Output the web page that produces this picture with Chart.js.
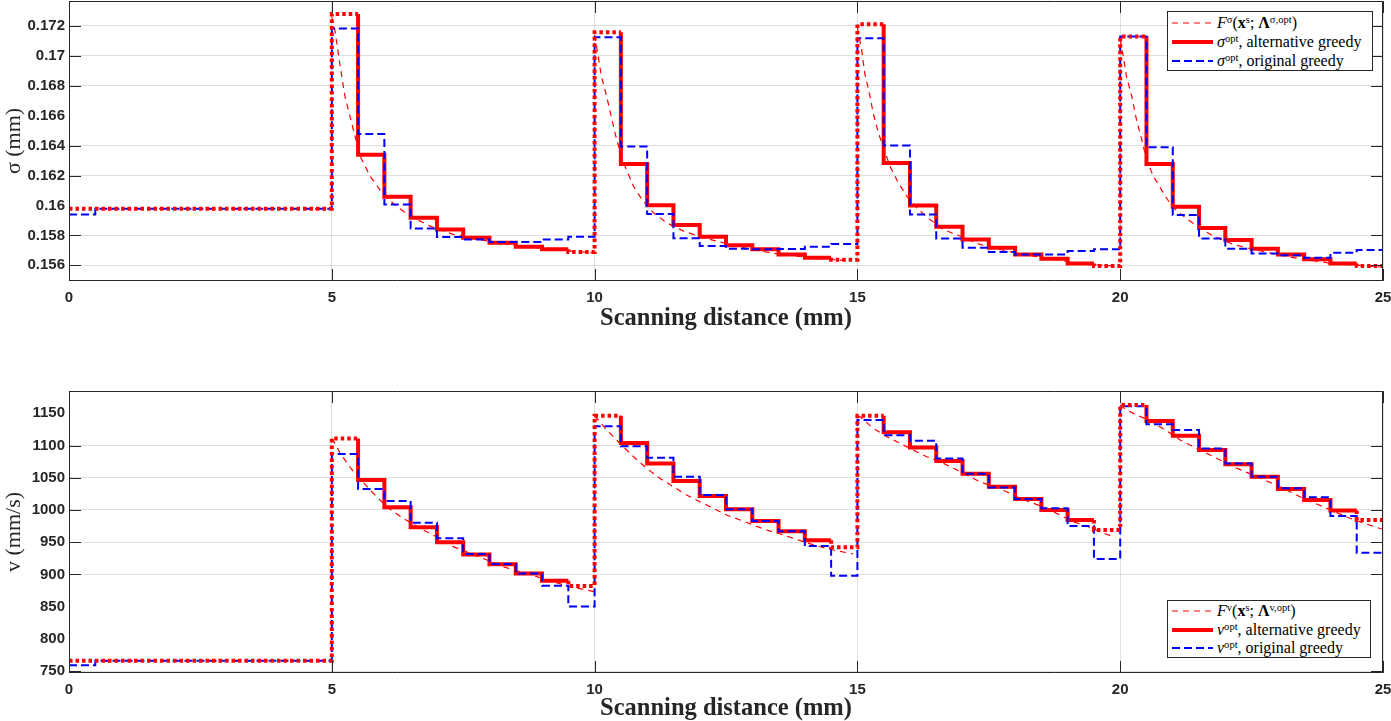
<!DOCTYPE html>
<html>
<head>
<meta charset="utf-8">
<script src="https://cdn.jsdelivr.net/npm/chart.js@4.4.1/dist/chart.umd.min.js"></script>
<style>
  body { margin: 0; background: #fff; }
  #wrap { position: relative; width: 1391px; height: 721px; overflow: hidden; }
  #wrap canvas { position: absolute; left: 0; }
  .legend { position: absolute; background: #fff; border: 1px solid #262626; box-sizing: border-box;
            font-family: "Liberation Serif", serif; font-size: 16px; color: #000; }
  .legend .row { position: absolute; left: 4px; height: 19px; display: flex; align-items: center; white-space: nowrap; }
  .legend svg { margin-right: 4px; }
  .legend sup { font-size: 0.66em; line-height: 0; vertical-align: 0.5em; }
</style>
</head>
<body>
<div id="wrap">
  <canvas id="top" width="1391" height="360" style="top:0"></canvas>
  <canvas id="bottom" width="1391" height="361" style="top:360px"></canvas>

  <div class="legend" style="left:1167px; top:11px; width:206px; height:60px;">
    <div class="row" style="top:1px"><svg width="41" height="8"><line x1="0" y1="4" x2="41" y2="4" stroke="#f00" stroke-width="1.2" stroke-dasharray="6 5"/></svg><span><i>F</i><sup>σ</sup>(<b>x</b><sup>s</sup>; <b>Λ</b><sup>σ,opt</sup>)</span></div>
    <div class="row" style="top:20px"><svg width="41" height="8"><line x1="0" y1="4" x2="41" y2="4" stroke="#f00" stroke-width="4"/></svg><span><i>σ</i><sup>opt</sup>, alternative greedy</span></div>
    <div class="row" style="top:39px"><svg width="41" height="8"><line x1="0" y1="4" x2="41" y2="4" stroke="#00f" stroke-width="2" stroke-dasharray="8 4"/></svg><span><i>σ</i><sup>opt</sup>, original greedy</span></div>
  </div>

  <div class="legend" style="left:1167px; top:600px; width:204px; height:58px;">
    <div class="row" style="top:0px"><svg width="41" height="8"><line x1="0" y1="4" x2="41" y2="4" stroke="#f00" stroke-width="1.2" stroke-dasharray="6 5"/></svg><span><i>F</i><sup>v</sup>(<b>x</b><sup>s</sup>; <b>Λ</b><sup>v,opt</sup>)</span></div>
    <div class="row" style="top:19px"><svg width="41" height="8"><line x1="0" y1="4" x2="41" y2="4" stroke="#f00" stroke-width="4"/></svg><span><i>v</i><sup>opt</sup>, alternative greedy</span></div>
    <div class="row" style="top:37px"><svg width="41" height="8"><line x1="0" y1="4" x2="41" y2="4" stroke="#00f" stroke-width="2" stroke-dasharray="8 4"/></svg><span><i>v</i><sup>opt</sup>, original greedy</span></div>
  </div>
</div>

<script>
// bords des segments de 0.5 mm
const xEdges = [0, 0.5, 1, 1.5, 2, 2.5, 3, 3.5, 4, 4.5, 5, 5.5, 6, 6.5, 7, 7.5, 8, 8.5, 9, 9.5,
                10, 10.5, 11, 11.5, 12, 12.5, 13, 13.5, 14, 14.5, 15, 15.5, 16, 16.5, 17, 17.5, 18, 18.5, 19, 19.5,
                20, 20.5, 21, 21.5, 22, 22.5, 23, 23.5, 24, 24.5, 25];
const xTicks = [0, 5, 10, 15, 20, 25];

// sigma (mm), une valeur par segment
const sigmaAlt = [0.15978, 0.15978, 0.15978, 0.15978, 0.15978, 0.15978, 0.15978, 0.15978, 0.15978, 0.15978,
                  0.1728, 0.1634, 0.16058, 0.15918, 0.1584, 0.15784, 0.15751, 0.15724, 0.15707, 0.15689,
                  0.17158, 0.16278, 0.16002, 0.15869, 0.15791, 0.15735, 0.15707, 0.15673, 0.15651, 0.15638,
                  0.17211, 0.16285, 0.16, 0.15858, 0.15773, 0.15718, 0.15673, 0.15644, 0.15613, 0.15596,
                  0.17129, 0.16278, 0.15991, 0.15849, 0.15769, 0.15711, 0.15673, 0.1564, 0.15613, 0.15596];
const sigmaOrig = [0.1594, 0.15978, 0.15978, 0.15978, 0.15978, 0.15978, 0.15978, 0.15978, 0.15978, 0.15978,
                   0.17184, 0.16478, 0.16007, 0.15847, 0.15789, 0.15773, 0.15756, 0.15756, 0.15773, 0.15791,
                   0.17125, 0.16395, 0.15944, 0.15782, 0.15729, 0.15711, 0.15707, 0.1571, 0.15724, 0.15742,
                   0.17118, 0.16402, 0.1594, 0.1578, 0.15718, 0.15689, 0.15673, 0.15673, 0.15696, 0.15707,
                   0.17129, 0.16389, 0.15936, 0.1578, 0.15711, 0.1568, 0.15667, 0.15651, 0.15684, 0.15702];
const sigmaFitX = [5, 5.06, 5.16, 5.25, 5.41, 5.54, 5.73, 5.98, 6.23, 6.49, 6.87, 7.31, 7.63, 8.07, 8.58, 9.09, 9.53, 9.98, null,
                   10, 10.07, 10.13, 10.23, 10.33, 10.42, 10.55, 10.74, 10.9, 11.12, 11.37, 11.69, 12.07, 12.45, 12.83, 13.34, 13.84, 14.35, 14.86, null,
                   15, 15.08, 15.14, 15.24, 15.3, 15.4, 15.49, 15.62, 15.78, 15.94, 16.16, 16.38, 16.63, 16.95, 17.33, 17.84, 18.35, 18.85, 19.36, 19.87, null,
                   20, 20.06, 20.12, 20.22, 20.31, 20.41, 20.5, 20.63, 20.82, 20.98, 21.2, 21.46, 21.77, 22.15, 22.53, 22.98, 23.42, 23.93, 24.44, 24.94];
const sigmaFitY = [0.1726, 0.1717, 0.16929, 0.16729, 0.16507, 0.16329, 0.16196, 0.16073, 0.15996, 0.15929, 0.15862, 0.15807, 0.15784, 0.15756, 0.15729, 0.15711, 0.15696, 0.15684, null,
                   0.1714, 0.16995, 0.16862, 0.16729, 0.16573, 0.1644, 0.16285, 0.16129, 0.1604, 0.15951, 0.15885, 0.15829, 0.15784, 0.15751, 0.15718, 0.15684, 0.15662, 0.15644, 0.15629, null,
                   0.1719, 0.1704, 0.16884, 0.16729, 0.16618, 0.16484, 0.16395, 0.16262, 0.16151, 0.16062, 0.15973, 0.15907, 0.1584, 0.15796, 0.1574, 0.15696, 0.15662, 0.15633, 0.15607, 0.15596, null,
                   0.1711, 0.16995, 0.16862, 0.16729, 0.16573, 0.1644, 0.16307, 0.16196, 0.16085, 0.15996, 0.15929, 0.15862, 0.15796, 0.1574, 0.15707, 0.15673, 0.15644, 0.15618, 0.15602, 0.15589];
const sigmaTicks = [0.156, 0.158, 0.16, 0.162, 0.164, 0.166, 0.168, 0.17, 0.172];
const sigmaFaint = [0.166, 0.16];

// v (mm/s)
const vAlt = [766, 766, 766, 766, 766, 766, 766, 766, 766, 766,
              1111, 1046.5, 1004, 973, 950, 931, 915.5, 901.5, 890, 882,
              1146, 1104, 1072, 1045, 1021.5, 1001, 983, 967, 953, 942,
              1146, 1120.5, 1097, 1076, 1056, 1036, 1017, 1000, 984.5, 969,
              1163, 1138, 1115, 1093, 1071, 1051.5, 1032.5, 1015.5, 999, 984.5];
const vOrig = [759, 766, 766, 766, 766, 766, 766, 766, 766, 766,
               1087, 1032.5, 1014, 980, 956, 931.5, 916, 901.5, 882.5, 850,
               1130, 1099, 1081, 1051.5, 1023, 1001, 983, 967, 944, 898,
               1139.5, 1116, 1107.5, 1080, 1056, 1035, 1017, 1002.5, 975, 924,
               1161, 1133, 1124, 1095.5, 1072, 1051.5, 1033.5, 1019.5, 990.5, 933.5];
const vFitX = [5, 5.06, 5.16, 5.41, 5.73, 6.04, 6.36, 6.68, 6.99, 7.31, 7.63, 7.95, 8.26, 8.58, 8.9, 9.21, 9.53, 9.85, 10, null,
               10, 10.07, 10.23, 10.48, 10.74, 10.99, 11.24, 11.5, 11.75, 12, 12.26, 12.51, 12.77, 13.02, 13.27, 13.53, 13.78, 14.03, 14.29, 14.54, 14.8, 14.92, null,
               15, 15.05, 15.3, 15.56, 15.81, 16.06, 16.32, 16.57, 16.83, 17.08, 17.33, 17.59, 17.84, 18.09, 18.35, 18.6, 18.85, 19.11, 19.36, 19.61, 19.87, null,
               20, 20.1, 20.3, 20.6, 20.9, 21.14, 21.71, 22.15, 22.6, 23.04, 23.48, 23.93, 24.37, 24.87, 25];
const vFitY = [1111, 1103.4, 1087.9, 1059.4, 1031, 1005, 987, 971.5, 958.5, 943, 932.7, 922.3, 911.9, 904.1, 896.4, 888.6, 880.8, 875.7, 873.1, null,
               1146, 1139.6, 1124.1, 1103.4, 1082.6, 1064.6, 1049.1, 1036.1, 1023.2, 1012.8, 1002.5, 992.1, 984.4, 976.6, 968.9, 962.6, 956, 949.1, 942.9, 937.8, 933.6, 931.6, null,
               1146, 1144.8, 1126.7, 1113.7, 1103.4, 1093, 1082.6, 1074.9, 1064.6, 1054.2, 1043.8, 1036.1, 1028.3, 1018, 1010.3, 1002.5, 992.1, 981.7, 975, 966.2, 958.4, null,
               1163, 1156, 1148, 1137, 1122, 1108.6, 1085.3, 1067.1, 1051.6, 1036.1, 1018, 1002.5, 987, 973, 970];
const vTicks = [750, 800, 850, 900, 950, 1000, 1050, 1100, 1150];
const vFaint = [1150, 850, 800];

const RED = "#ff0000";
const BLUE = "#0000ff";
const AXE = "#262626";
const GRILLE = "rgba(38,38,38,0.15)";

// segments en trait plein (le reste de la courbe alternative est en pointillé)
function estPlein(i) {
    return i >= 10 && i % 10 >= 1 && i % 10 <= 8;
}

// points pour un escalier "stepped: before", avec coupure entre les morceaux
function escalier(vals, garder) {
    const pts = [];
    let ouvert = false;
    for (let i = 0; i < vals.length; i++) {
        if (!garder(i)) {
            if (ouvert) {
                pts.push({ x: xEdges[i], y: vals[i - 1] });
                pts.push({ x: xEdges[i], y: null });
                ouvert = false;
            }
            continue;
        }
        if (!ouvert && i > 0) pts.push({ x: xEdges[i], y: vals[i - 1] });
        pts.push({ x: xEdges[i], y: vals[i] });
        ouvert = true;
    }
    if (ouvert) pts.push({ x: xEdges[vals.length], y: vals[vals.length - 1] });
    return pts;
}

function courbe(xs, ys) {
    return xs.map((x, i) => ({ x: x === null ? xs[i - 1] : x, y: ys[i] }));
}

// cadre + graduations vers l'intérieur, comme MATLAB
const cadre = {
    id: "cadre",
    afterDatasetsDraw(chart, args, opts) {
        const { ctx, chartArea: a, scales } = chart;
        const T = 12;
        ctx.save();
        ctx.strokeStyle = AXE;
        ctx.lineWidth = 1;
        ctx.beginPath();
        scales.x.ticks.forEach(t => {
            const px = Math.round(scales.x.getPixelForValue(t.value)) + 0.5;
            ctx.moveTo(px, a.bottom); ctx.lineTo(px, a.bottom - T);
            ctx.moveTo(px, a.top); ctx.lineTo(px, a.top + T);
        });
        scales.y.ticks.forEach(t => {
            if (opts.faint.includes(t.value)) return;
            const py = Math.round(scales.y.getPixelForValue(t.value)) + 0.5;
            ctx.moveTo(a.left, py); ctx.lineTo(a.left + T, py);
            ctx.moveTo(a.right, py); ctx.lineTo(a.right - T, py);
        });
        ctx.rect(a.left + 0.5, a.top + 0.5, a.width - 1, a.height - 1);
        ctx.stroke();
        ctx.restore();
    }
};

function tracer(id, o) {
    const policeTicks = { family: "Liberation Sans", size: 15, weight: "bold" };
    return new Chart(document.getElementById(id), {
        type: "line",
        data: {
            datasets: [
                { data: escalier(o.alt, i => !estPlein(i)), borderColor: RED, borderWidth: 4, borderDash: [3.5, 3], stepped: true, order: 1 },
                { data: escalier(o.orig, () => true), borderColor: BLUE, borderWidth: 2, borderDash: [8, 4], stepped: true, order: 2 },
                { data: escalier(o.alt, estPlein), borderColor: RED, borderWidth: 4, stepped: true, order: 3 },
                { data: courbe(o.fitX, o.fitY), borderColor: RED, borderWidth: 1.2, borderDash: [6, 5], order: 4 }
            ]
        },
        options: {
            responsive: false,
            animation: false,
            events: [],
            devicePixelRatio: 1,
            layout: { padding: { top: o.padTop, right: 8, bottom: 0, left: 0 } },
            elements: { point: { radius: 0 }, line: { tension: 0, borderCapStyle: "butt", borderJoinStyle: "miter" } },
            plugins: { legend: { display: false }, tooltip: { enabled: false }, cadre: { faint: o.faint } },
            scales: {
                x: {
                    type: "linear", min: 0, max: 25,
                    afterBuildTicks: s => { s.ticks = xTicks.map(v => ({ value: v })); },
                    afterFit: s => { s.height = o.xHeight; s.paddingLeft = 0; s.paddingRight = 0; },
                    grid: { color: GRILLE, drawTicks: false },
                    border: { display: false },
                    ticks: { font: policeTicks, color: AXE, padding: 8, maxRotation: 0, autoSkip: false },
                    title: { display: true, text: "Scanning distance (mm)", color: AXE,
                             font: { family: "Liberation Serif", size: 24.5, weight: "bold", lineHeight: 1 },
                             padding: { top: 0, bottom: o.xTitlePad } }
                },
                y: {
                    type: "linear", min: o.yMin, max: o.yMax,
                    afterBuildTicks: s => { s.ticks = o.ticks.map(v => ({ value: v })); },
                    afterFit: s => { s.width = 69; s.paddingTop = 0; s.paddingBottom = 0; },
                    grid: { color: c => o.faint.includes(c.tick.value) ? "rgba(0,0,0,0)" : GRILLE, drawTicks: false },
                    border: { display: false },
                    ticks: { font: policeTicks, color: AXE, padding: 4, autoSkip: false, callback: v => String(+v.toFixed(3)) },
                    title: { display: true, text: o.yLabel, color: AXE,
                             font: { family: "Liberation Serif", size: 22, lineHeight: 1 },
                             padding: { top: 3, bottom: 0 } }
                }
            }
        },
        plugins: [cadre]
    });
}

tracer("top", {
    alt: sigmaAlt, orig: sigmaOrig, fitX: sigmaFitX, fitY: sigmaFitY,
    ticks: sigmaTicks, faint: sigmaFaint, yMin: 0.154954, yMax: 0.173671, yLabel: "σ (mm)",
    padTop: 1, xHeight: 79, xTitlePad: 29.5
});
tracer("bottom", {
    alt: vAlt, orig: vOrig, fitX: vFitX, fitY: vFitY,
    ticks: vTicks, faint: vFaint, yMin: 746.9, yMax: 1184.6, yLabel: "v (mm/s)",
    padTop: 31, xHeight: 48, xTitlePad: 0
});
</script>
</body>
</html>
